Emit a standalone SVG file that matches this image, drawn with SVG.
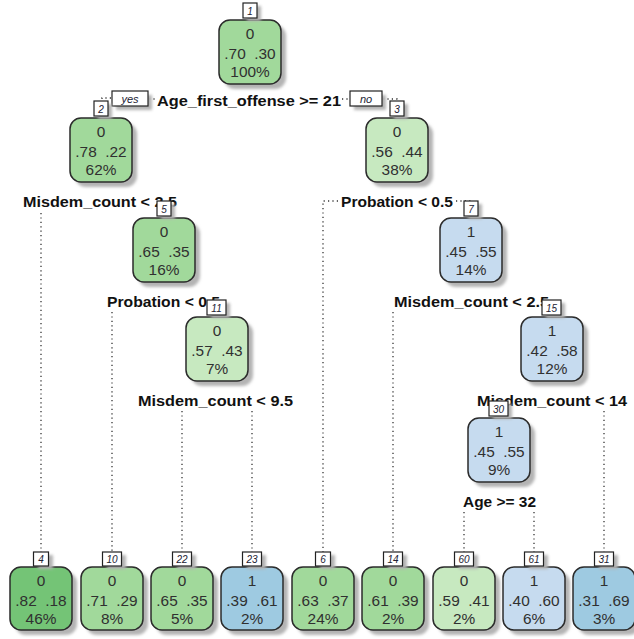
<svg xmlns="http://www.w3.org/2000/svg" width="634" height="639" viewBox="0 0 634 639">
<defs>
<filter id="blur" x="-20%" y="-20%" width="140%" height="140%"><feGaussianBlur stdDeviation="1.4"/></filter>
<style>
.sh{fill:#b4b4b4;filter:url(#blur)}
.box{stroke:#2b2b2b;stroke-width:1.5}
.nb{fill:#fff;stroke:#222;stroke-width:1.2}
.nn{font-family:"Liberation Sans",Arial,sans-serif;font-style:italic;font-size:10px;fill:#223;text-anchor:middle}
.t{font-family:"Liberation Sans",Arial,sans-serif;font-size:14px;fill:#303030;text-anchor:middle}
.lab{font-family:"Liberation Sans",Arial,sans-serif;font-weight:bold;font-size:14px;fill:#111}
.yn{font-family:"Liberation Sans",Arial,sans-serif;font-style:italic;font-size:11px;fill:#223;text-anchor:middle}
.dot{fill:none;stroke:#333;stroke-width:1.3;stroke-dasharray:1.2 3.2}
.A{fill:#a1d99b}.D{fill:#74c476}.L{fill:#c7e9c0}.LB{fill:#c6dbef}.B{fill:#9ecae1}
</style>
</defs>
<rect width="634" height="639" fill="#fff"/>

<g id="connectors">
<path class="dot" d="M111,98 H102 V101"/>
<path class="dot" d="M149,99 H156"/>
<path class="dot" d="M342,99 H349"/>
<path class="dot" d="M383,99 H397 V101"/>
<path class="dot" d="M41,213 V552"/>
<path class="dot" d="M338,201 H323 V552"/>
<path class="dot" d="M456,201 H471 V202"/>
<path class="dot" d="M112,312 V552"/>
<path class="dot" d="M393,312 V552"/>
<path class="dot" d="M182,411 V552"/>
<path class="dot" d="M252,411 V552"/>
<path class="dot" d="M604,411 V552"/>
<path class="dot" d="M464,512 V552"/>
<path class="dot" d="M534,512 V552"/>
</g>

<g id="labels">
<g id="yes"><rect x="116" y="95" width="36" height="15" class="sh"/><rect x="112" y="91" width="36" height="15" class="nb"/><text class="yn" x="130" y="102.5">yes</text></g>
<g id="no"><rect x="354" y="95" width="32" height="15" class="sh"/><rect x="350" y="91" width="32" height="15" class="nb"/><text class="yn" x="366" y="102.5">no</text></g>
<text class="lab" x="157" y="106" textLength="184" lengthAdjust="spacingAndGlyphs">Age_first_offense &gt;= 21</text>
<text class="lab" x="23" y="207" textLength="154" lengthAdjust="spacingAndGlyphs">Misdem_count &lt; 2.5</text>
<text class="lab" x="341" y="207" textLength="112" lengthAdjust="spacingAndGlyphs">Probation &lt; 0.5</text>
<text class="lab" x="107" y="307" textLength="113" lengthAdjust="spacingAndGlyphs">Probation &lt; 0.5</text>
<text class="lab" x="394" y="307" textLength="155" lengthAdjust="spacingAndGlyphs">Misdem_count &lt; 2.5</text>
<text class="lab" x="138" y="406" textLength="155" lengthAdjust="spacingAndGlyphs">Misdem_count &lt; 9.5</text>
<text class="lab" x="477" y="406" textLength="150" lengthAdjust="spacingAndGlyphs">Misdem_count &lt; 14</text>
<text class="lab" x="463" y="507" textLength="73" lengthAdjust="spacingAndGlyphs">Age &gt;= 32</text>
</g>

<!-- node template: translate to (cx, top) -->
<g id="node1" transform="translate(250,20)">
<rect class="sh" x="-26" y="5" width="62" height="64" rx="11"/><rect class="box A" x="-31" y="0" width="62" height="64" rx="11"/>
<rect class="sh" x="-3" y="-14" width="14" height="15"/><rect class="nb" x="-7" y="-17" width="14" height="15"/><text class="nn" x="0" y="-5.5">1</text>
<g transform="scale(1.1,1)"><text class="t" y="19">0</text><text class="t" y="39" xml:space="preserve">.70  .30</text><text class="t" y="57">100%</text></g>
</g>
<g id="node2" transform="translate(101,118)">
<rect class="sh" x="-26" y="5" width="62" height="64" rx="11"/><rect class="box A" x="-31" y="0" width="62" height="64" rx="11"/>
<rect class="sh" x="-3" y="-14" width="14" height="15"/><rect class="nb" x="-7" y="-17" width="14" height="15"/><text class="nn" x="0" y="-5.5">2</text>
<g transform="scale(1.1,1)"><text class="t" y="19">0</text><text class="t" y="39" xml:space="preserve">.78  .22</text><text class="t" y="57">62%</text></g>
</g>
<g id="node3" transform="translate(397,118)">
<rect class="sh" x="-26" y="5" width="62" height="64" rx="11"/><rect class="box L" x="-31" y="0" width="62" height="64" rx="11"/>
<rect class="sh" x="-3" y="-14" width="14" height="15"/><rect class="nb" x="-7" y="-17" width="14" height="15"/><text class="nn" x="0" y="-5.5">3</text>
<g transform="scale(1.1,1)"><text class="t" y="19">0</text><text class="t" y="39" xml:space="preserve">.56  .44</text><text class="t" y="57">38%</text></g>
</g>
<g id="node5" transform="translate(164,218)">
<rect class="sh" x="-26" y="5" width="62" height="64" rx="11"/><rect class="box A" x="-31" y="0" width="62" height="64" rx="11"/>
<rect class="sh" x="-3" y="-14" width="14" height="15"/><rect class="nb" x="-7" y="-17" width="14" height="15"/><text class="nn" x="0" y="-5.5">5</text>
<g transform="scale(1.1,1)"><text class="t" y="19">0</text><text class="t" y="39" xml:space="preserve">.65  .35</text><text class="t" y="57">16%</text></g>
</g>
<g id="node7" transform="translate(471,218)">
<rect class="sh" x="-26" y="5" width="62" height="64" rx="11"/><rect class="box LB" x="-31" y="0" width="62" height="64" rx="11"/>
<rect class="sh" x="-3" y="-14" width="14" height="15"/><rect class="nb" x="-7" y="-17" width="14" height="15"/><text class="nn" x="0" y="-5.5">7</text>
<g transform="scale(1.1,1)"><text class="t" y="19">1</text><text class="t" y="39" xml:space="preserve">.45  .55</text><text class="t" y="57">14%</text></g>
</g>
<g id="node11" transform="translate(217,317)">
<rect class="sh" x="-26" y="5" width="62" height="64" rx="11"/><rect class="box L" x="-31" y="0" width="62" height="64" rx="11"/>
<rect class="sh" x="-6" y="-14" width="19" height="15"/><rect class="nb" x="-10" y="-17" width="19" height="15"/><text class="nn" x="-0.5" y="-5.5">11</text>
<g transform="scale(1.1,1)"><text class="t" y="19">0</text><text class="t" y="39" xml:space="preserve">.57  .43</text><text class="t" y="57">7%</text></g>
</g>
<g id="node15" transform="translate(552,317)">
<rect class="sh" x="-26" y="5" width="62" height="64" rx="11"/><rect class="box LB" x="-31" y="0" width="62" height="64" rx="11"/>
<rect class="sh" x="-6" y="-14" width="19" height="15"/><rect class="nb" x="-10" y="-17" width="19" height="15"/><text class="nn" x="-0.5" y="-5.5">15</text>
<g transform="scale(1.1,1)"><text class="t" y="19">1</text><text class="t" y="39" xml:space="preserve">.42  .58</text><text class="t" y="57">12%</text></g>
</g>
<g id="node30" transform="translate(499,418)">
<rect class="sh" x="-26" y="5" width="62" height="64" rx="11"/><rect class="box LB" x="-31" y="0" width="62" height="64" rx="11"/>
<rect class="sh" x="-6" y="-14" width="19" height="15"/><rect class="nb" x="-10" y="-17" width="19" height="15"/><text class="nn" x="-0.5" y="-5.5">30</text>
<g transform="scale(1.1,1)"><text class="t" y="19">1</text><text class="t" y="39" xml:space="preserve">.45  .55</text><text class="t" y="57">9%</text></g>
</g>

<g id="node4" transform="translate(41,567)">
<rect class="sh" x="-26" y="5" width="62" height="63" rx="11"/><rect class="box D" x="-31" y="0" width="62" height="63" rx="11"/>
<rect class="sh" x="-3" y="-12" width="15" height="14"/><rect class="nb" x="-7.5" y="-15" width="15" height="14"/><text class="nn" x="0" y="-4.5">4</text>
<g transform="scale(1.1,1)"><text class="t" y="19">0</text><text class="t" y="39" xml:space="preserve">.82  .18</text><text class="t" y="57">46%</text></g>
</g>
<g id="node10" transform="translate(112,567)">
<rect class="sh" x="-26" y="5" width="62" height="63" rx="11"/><rect class="box A" x="-31" y="0" width="62" height="63" rx="11"/>
<rect class="sh" x="-5" y="-12" width="19" height="14"/><rect class="nb" x="-9.5" y="-15" width="19" height="14"/><text class="nn" x="0" y="-4.5">10</text>
<g transform="scale(1.1,1)"><text class="t" y="19">0</text><text class="t" y="39" xml:space="preserve">.71  .29</text><text class="t" y="57">8%</text></g>
</g>
<g id="node22" transform="translate(182,567)">
<rect class="sh" x="-26" y="5" width="62" height="63" rx="11"/><rect class="box A" x="-31" y="0" width="62" height="63" rx="11"/>
<rect class="sh" x="-5" y="-12" width="19" height="14"/><rect class="nb" x="-9.5" y="-15" width="19" height="14"/><text class="nn" x="0" y="-4.5">22</text>
<g transform="scale(1.1,1)"><text class="t" y="19">0</text><text class="t" y="39" xml:space="preserve">.65  .35</text><text class="t" y="57">5%</text></g>
</g>
<g id="node23" transform="translate(252,567)">
<rect class="sh" x="-26" y="5" width="62" height="63" rx="11"/><rect class="box B" x="-31" y="0" width="62" height="63" rx="11"/>
<rect class="sh" x="-5" y="-12" width="19" height="14"/><rect class="nb" x="-9.5" y="-15" width="19" height="14"/><text class="nn" x="0" y="-4.5">23</text>
<g transform="scale(1.1,1)"><text class="t" y="19">1</text><text class="t" y="39" xml:space="preserve">.39  .61</text><text class="t" y="57">2%</text></g>
</g>
<g id="node6" transform="translate(323,567)">
<rect class="sh" x="-26" y="5" width="62" height="63" rx="11"/><rect class="box A" x="-31" y="0" width="62" height="63" rx="11"/>
<rect class="sh" x="-3" y="-12" width="15" height="14"/><rect class="nb" x="-7.5" y="-15" width="15" height="14"/><text class="nn" x="0" y="-4.5">6</text>
<g transform="scale(1.1,1)"><text class="t" y="19">0</text><text class="t" y="39" xml:space="preserve">.63  .37</text><text class="t" y="57">24%</text></g>
</g>
<g id="node14" transform="translate(393,567)">
<rect class="sh" x="-26" y="5" width="62" height="63" rx="11"/><rect class="box A" x="-31" y="0" width="62" height="63" rx="11"/>
<rect class="sh" x="-5" y="-12" width="19" height="14"/><rect class="nb" x="-9.5" y="-15" width="19" height="14"/><text class="nn" x="0" y="-4.5">14</text>
<g transform="scale(1.1,1)"><text class="t" y="19">0</text><text class="t" y="39" xml:space="preserve">.61  .39</text><text class="t" y="57">2%</text></g>
</g>
<g id="node60" transform="translate(464,567)">
<rect class="sh" x="-26" y="5" width="62" height="63" rx="11"/><rect class="box L" x="-31" y="0" width="62" height="63" rx="11"/>
<rect class="sh" x="-5" y="-12" width="19" height="14"/><rect class="nb" x="-9.5" y="-15" width="19" height="14"/><text class="nn" x="0" y="-4.5">60</text>
<g transform="scale(1.1,1)"><text class="t" y="19">0</text><text class="t" y="39" xml:space="preserve">.59  .41</text><text class="t" y="57">2%</text></g>
</g>
<g id="node61" transform="translate(534,567)">
<rect class="sh" x="-26" y="5" width="62" height="63" rx="11"/><rect class="box LB" x="-31" y="0" width="62" height="63" rx="11"/>
<rect class="sh" x="-5" y="-12" width="19" height="14"/><rect class="nb" x="-9.5" y="-15" width="19" height="14"/><text class="nn" x="0" y="-4.5">61</text>
<g transform="scale(1.1,1)"><text class="t" y="19">1</text><text class="t" y="39" xml:space="preserve">.40  .60</text><text class="t" y="57">6%</text></g>
</g>
<g id="node31" transform="translate(604,567)">
<rect class="sh" x="-26" y="5" width="62" height="63" rx="11"/><rect class="box B" x="-31" y="0" width="62" height="63" rx="11"/>
<rect class="sh" x="-5" y="-12" width="19" height="14"/><rect class="nb" x="-9.5" y="-15" width="19" height="14"/><text class="nn" x="0" y="-4.5">31</text>
<g transform="scale(1.1,1)"><text class="t" y="19">1</text><text class="t" y="39" xml:space="preserve">.31  .69</text><text class="t" y="57">3%</text></g>
</g>
</svg>
